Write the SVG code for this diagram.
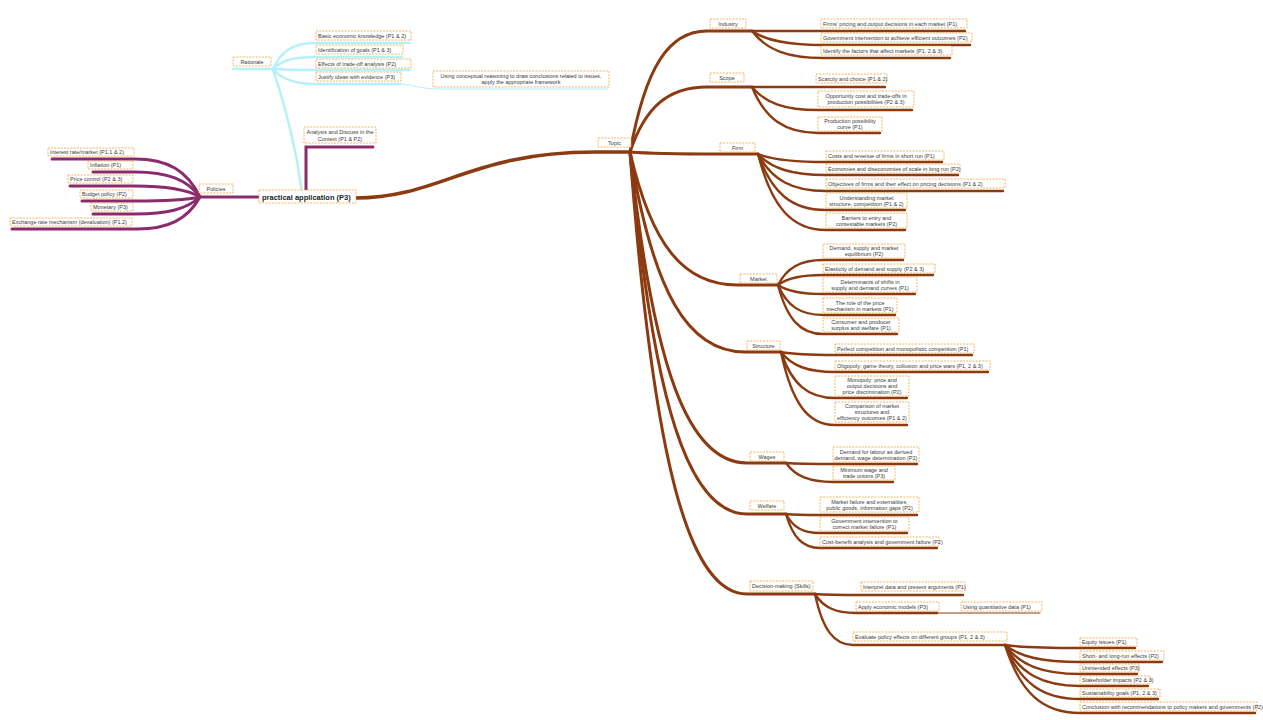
<svg xmlns="http://www.w3.org/2000/svg" width="1263" height="720" viewBox="0 0 1263 720">
<style>
  .bg{fill:#ffffff}
  .box{fill:#ffffff;stroke:#f0a23a;stroke-width:0.8;stroke-dasharray:2 1.2}
  .t{font-family:"Liberation Sans",Arial,sans-serif;font-size:5.5px;fill:#3a3a3a}
  .c{text-anchor:middle}
  .root{font-family:"Liberation Sans",Arial,sans-serif;font-size:7.5px;font-weight:bold;fill:#222}
  .br{fill:none;stroke:#8c3a10;stroke-linecap:round}
  .pu{fill:none;stroke:#8a2c6c;stroke-linecap:round}
  .cy{fill:none;stroke:#b5f1f7;stroke-linecap:round}
  .w4{stroke-width:3.5}
  .w3{stroke-width:3}
  .w2{stroke-width:2.4}
  .w1{stroke-width:1.2}
</style>
<rect class="bg" x="0" y="0" width="1263" height="720"/>

<!-- connectors -->
<g id="connectors">
  <!-- trunk to the topic hub -->
  <path class="br w4" d="M355,198 C440,198 470,152 595,152 L630,152"/>
  <!-- topic hub to branches -->
  <path class="br w3" d="M630,152 C645.4,67.3 668.5,31 707,31 L752,31"/>
  <path class="br w3" d="M630,152 C645.4,106.5 668.5,87 707,87 L752,87"/>
  <path class="br w3" d="M630,152 C647.4,153.4 673.5,154 717,154 L758,154"/>
  <path class="br w3" d="M630,152 C651.4,245.1 683.5,285 737,285 L778,285"/>
  <path class="br w3" d="M630,152 C653,292 687.5,352 745,352 L781,352"/>
  <path class="br w3" d="M630,152 C653.4,369.7 688.5,463 747,463 L786,463"/>
  <path class="br w3" d="M630,152 C653.4,405.4 688.5,514 747,514 L786,514"/>
  <path class="br w3" d="M630,152 C653.4,461.4 688.5,594 747,594 L815,594"/>
  <!-- Industry -->
  <path class="br w2" d="M752,31 L965,31"/>
  <path class="br w2" d="M752,31 C766.2,40.8 787.5,45 823,45 L970,45"/>
  <path class="br w2" d="M752,31 C766.2,49.9 787.5,58 823,58 L950,58"/>
  <!-- Scope -->
  <path class="br w2" d="M752,87 L885,87"/>
  <path class="br w2" d="M752,87 C765.2,103.1 785,110 818,110 L912,110"/>
  <path class="br w2" d="M752,87 C765.2,119.2 785,133 818,133 L880,133"/>
  <!-- Firm -->
  <path class="br w2" d="M758,154 C771.6,159.6 792,162 826,162 L942,162"/>
  <path class="br w2" d="M758,154 C771.6,168.7 792,175 826,175 L958,175"/>
  <path class="br w2" d="M758,154 C771.6,179.9 792,191 826,191 L1003,191"/>
  <path class="br w2" d="M758,154 C771.6,193.2 792,210 826,210 L905,210"/>
  <path class="br w2" d="M758,154 C771.6,207.2 792,230 826,230 L905,230"/>
  <!-- Market -->
  <path class="br w2" d="M778,285 C787,267.5 800.5,260 823,260 L903,260"/>
  <path class="br w2" d="M778,285 C787,278 800.5,275 823,275 L933,275"/>
  <path class="br w2" d="M778,285 C787,291.3 800.5,294 823,294 L915,294"/>
  <path class="br w2" d="M778,285 C787,306 800.5,315 823,315 L895,315"/>
  <path class="br w2" d="M778,285 C787,319.3 800.5,334 823,334 L897,334"/>
  <!-- Structure -->
  <path class="br w2" d="M781,352 C791.8,354.1 808,355 835,355 L972,355"/>
  <path class="br w2" d="M781,352 C791.8,366 808,372 835,372 L988,372"/>
  <path class="br w2" d="M781,352 C791.8,384.2 808,398 835,398 L907,398"/>
  <path class="br w2" d="M781,352 C791.8,403.1 808,425 835,425 L907,425"/>
  <!-- Wages -->
  <path class="br w2" d="M786,463 C795.4,463.7 809.5,464 833,464 L917,464"/>
  <path class="br w2" d="M786,463 C795.4,476.3 809.5,482 833,482 L893,482"/>
  <!-- Welfare -->
  <path class="br w2" d="M786,514 C792.8,514.7 803,515 820,515 L917,515"/>
  <path class="br w2" d="M786,514 C792.8,527.3 803,533 820,533 L907,533"/>
  <path class="br w2" d="M786,514 C792.8,537.8 803,548 820,548 L937,548"/>
  <!-- Decision-making -->
  <path class="br w2" d="M815,594 C824.2,594.7 838,595 861,595 L963,595"/>
  <path class="br w2" d="M815,594 C823.2,607.3 835.5,613 856,613 L937,613"/>
  <path class="br w1" d="M937,613 L1040,613"/>
  <path class="br w2" d="M815,594 C822.6,629.7 834,645 853,645 L1005,645"/>
  <!-- evaluation details -->
  <path class="br w2" d="M1005,645 C1020,647.1 1042.5,648 1080,648 L1135,648"/>
  <path class="br w2" d="M1005,645 C1020,656.9 1042.5,662 1080,662 L1162,662"/>
  <path class="br w2" d="M1005,645 C1020,665.3 1042.5,674 1080,674 L1137,674"/>
  <path class="br w2" d="M1005,645 C1020,673.7 1042.5,686 1080,686 L1148,686"/>
  <path class="br w2" d="M1005,645 C1020,682.8 1042.5,699 1080,699 L1158,699"/>
  <path class="br w2" d="M1005,645 C1020,692.6 1042.5,713 1080,713 L1255,713"/>

  <!-- Policies (left) -->
  <path class="pu w3" d="M200,197 L258,197"/>
  <path class="pu w3" d="M200,197 C187,170.4 167.5,159 135,159 L52,159"/>
  <path class="pu w3" d="M200,197 C187,179.5 167.5,172 135,172 L93,172"/>
  <path class="pu w3" d="M200,197 C187,189.3 167.5,186 135,186 L70,186"/>
  <path class="pu w3" d="M200,197 C187,199.8 167.5,201 135,201 L82,201"/>
  <path class="pu w3" d="M200,197 C187,208.9 167.5,214 135,214 L93,214"/>
  <path class="pu w3" d="M200,197 C187.4,219.4 168.5,229 137,229 L12,229"/>
  <path class="pu w3" d="M306,192 L306,147 L373,147"/>

  <!-- Rationale (top) -->
  <path class="cy w2" d="M302,192 C295,140 280,90 273,69 L233,69"/>
  <path class="cy w2" d="M273,69 C281.4,50.5 294,43 315,43 L410,43"/>
  <path class="cy w2" d="M273,69 C281.4,60.3 294,57 315,57 L402,57"/>
  <path class="cy w2" d="M273,69 C281.4,69.4 294,70 315,70 L410,70"/>
  <path class="cy w2" d="M273,69 C281.4,79.2 294,84 315,84 L400,84"/>
  <path class="cy w1" d="M400,84 C412,84 420,89 436,89 L608,89"/>
</g>

<!-- central node -->
<g id="root">
  <rect class="box" x="259" y="190" width="97" height="13"/>
  <text class="root" x="262" y="199.5">practical application (P3)</text>
</g>

<!-- left: policies -->
<g id="policies"><rect class="box" x="199" y="184" width="34" height="9"/><text class="t" x="216" y="190.5" text-anchor="middle">Policies</text></g>
<g id="policy-1"><rect class="box" x="48" y="148" width="86" height="8"/><text class="t" x="50" y="154">Interest rate/market (P1.1 &amp; 2)</text></g>
<g id="policy-2"><rect class="box" x="88" y="161" width="45" height="8"/><text class="t" x="90" y="167">Inflation (P1)</text></g>
<g id="policy-3"><rect class="box" x="68" y="175" width="65" height="8"/><text class="t" x="70" y="181">Price control (P2 &amp; 3)</text></g>
<g id="policy-4"><rect class="box" x="80" y="190" width="53" height="8"/><text class="t" x="82" y="196">Budget policy (P2)</text></g>
<g id="policy-5"><rect class="box" x="91" y="203" width="42" height="8"/><text class="t" x="93" y="209">Monetary (P3)</text></g>
<g id="policy-6"><rect class="box" x="10" y="218" width="122" height="8"/><text class="t" x="12" y="224">Exchange rate mechanism (devaluation) (P1.2)</text></g>

<g id="analysis"><rect class="box" x="304" y="127" width="72" height="16"/><text class="t c" x="340" y="134">Analysis and Discuss in the</text><text class="t c" x="340" y="140.5">Context (P1 &amp; P2)</text></g>

<!-- top: rationale -->
<g id="rationale"><rect class="box" x="233" y="57" width="38" height="9"/><text class="t" x="252" y="63.5" text-anchor="middle">Rationale</text></g>
<g id="rationale-1"><rect class="box" x="316" y="31" width="95" height="9"/><text class="t" x="318" y="37.5">Basic economic knowledge (P1 &amp; 2)</text></g>
<g id="rationale-2"><rect class="box" x="316" y="45" width="87" height="9"/><text class="t" x="318" y="51.5">Identification of goals (P1 &amp; 3)</text></g>
<g id="rationale-3"><rect class="box" x="316" y="59" width="95" height="9"/><text class="t" x="318" y="65.5">Effects of trade-off analysis (P2)</text></g>
<g id="rationale-4"><rect class="box" x="316" y="72" width="85" height="9"/><text class="t" x="318" y="78.5">Justify ideas with evidence (P3)</text></g>
<g id="rationale-5"><rect class="box" x="433" y="71" width="176" height="16"/><text class="t c" x="521" y="77.5">Using conceptual reasoning to draw conclusions related to issues,</text><text class="t c" x="521" y="84">apply the appropriate framework</text></g>

<!-- right: topic hub -->
<g id="topic"><rect class="box" x="598" y="138" width="33" height="9"/><text class="t" x="614.5" y="144.5" text-anchor="middle">Topic</text></g>

<g id="industry"><rect class="box" x="710" y="19" width="36" height="9"/><text class="t" x="728" y="25.5" text-anchor="middle">Industry</text></g>
<g id="industry-1"><rect class="box" x="821" y="19" width="146" height="9"/><text class="t" x="823" y="25.5">Firms' pricing and output decisions in each market (P1)</text></g>
<g id="industry-2"><rect class="box" x="821" y="33" width="151" height="9"/><text class="t" x="823" y="39.5">Government intervention to achieve efficient outcomes (P2)</text></g>
<g id="industry-3"><rect class="box" x="821" y="46" width="131" height="9"/><text class="t" x="823" y="52.5">Identify the factors that affect markets (P1, 2 &amp; 3)</text></g>

<g id="scope"><rect class="box" x="710" y="73" width="34" height="9"/><text class="t" x="727" y="79.5" text-anchor="middle">Scope</text></g>
<g id="scope-1"><rect class="box" x="816" y="74" width="71" height="9"/><text class="t" x="818" y="80.5">Scarcity and choice (P1 &amp; 2)</text></g>
<g id="scope-2"><rect class="box" x="818" y="91" width="96" height="16"/><text class="t c" x="866" y="97.5">Opportunity cost and trade-offs in</text><text class="t c" x="866" y="104">production possibilities (P2 &amp; 3)</text></g>
<g id="scope-3"><rect class="box" x="818" y="117" width="64" height="14"/><text class="t c" x="850" y="123">Production possibility</text><text class="t c" x="850" y="129">curve (P1)</text></g>

<g id="firm"><rect class="box" x="720" y="143" width="35" height="9"/><text class="t" x="737.5" y="149.5" text-anchor="middle">Firm</text></g>
<g id="firm-1"><rect class="box" x="826" y="151" width="118" height="9"/><text class="t" x="828" y="157.5">Costs and revenue of firms in short run (P1)</text></g>
<g id="firm-2"><rect class="box" x="826" y="164" width="134" height="9"/><text class="t" x="828" y="170.5">Economies and diseconomies of scale in long run (P2)</text></g>
<g id="firm-3"><rect class="box" x="826" y="179" width="179" height="9"/><text class="t" x="828" y="185.5">Objectives of firms and their effect on pricing decisions (P1 &amp; 2)</text></g>
<g id="firm-4"><rect class="box" x="826" y="193" width="81" height="15"/><text class="t c" x="866.5" y="199.5">Understanding market</text><text class="t c" x="866.5" y="205.5">structure, competition (P1 &amp; 2)</text></g>
<g id="firm-5"><rect class="box" x="826" y="213" width="81" height="15"/><text class="t c" x="866.5" y="219.5">Barriers to entry and</text><text class="t c" x="866.5" y="225.5">contestable markets (P2)</text></g>

<g id="market"><rect class="box" x="740" y="274" width="37" height="9"/><text class="t" x="758.5" y="280.5" text-anchor="middle">Market</text></g>
<g id="market-1"><rect class="box" x="823" y="244" width="82" height="14"/><text class="t c" x="864" y="250">Demand, supply and market</text><text class="t c" x="864" y="256">equilibrium (P2)</text></g>
<g id="market-2"><rect class="box" x="823" y="264" width="112" height="9"/><text class="t" x="825" y="270.5">Elasticity of demand and supply (P2 &amp; 3)</text></g>
<g id="market-3"><rect class="box" x="823" y="277" width="94" height="15"/><text class="t c" x="870" y="283.5">Determinants of shifts in</text><text class="t c" x="870" y="289.5">supply and demand curves (P1)</text></g>
<g id="market-4"><rect class="box" x="823" y="298" width="74" height="15"/><text class="t c" x="860" y="304.5">The role of the price</text><text class="t c" x="860" y="310.5">mechanism in markets (P1)</text></g>
<g id="market-5"><rect class="box" x="823" y="318" width="76" height="14"/><text class="t c" x="861" y="324">Consumer and producer</text><text class="t c" x="861" y="330">surplus and welfare (P1)</text></g>

<g id="structure"><rect class="box" x="747" y="341" width="33" height="9"/><text class="t" x="763.5" y="347.5" text-anchor="middle">Structure</text></g>
<g id="structure-1"><rect class="box" x="835" y="344" width="139" height="9"/><text class="t" x="837" y="350.5">Perfect competition and monopolistic competition (P1)</text></g>
<g id="structure-2"><rect class="box" x="835" y="361" width="155" height="9"/><text class="t" x="837" y="367.5">Oligopoly: game theory, collusion and price wars (P1, 2 &amp; 3)</text></g>
<g id="structure-3"><rect class="box" x="835" y="376" width="74" height="20"/><text class="t c" x="872" y="382">Monopoly: price and</text><text class="t c" x="872" y="388">output decisions and</text><text class="t c" x="872" y="394">price discrimination (P2)</text></g>
<g id="structure-4"><rect class="box" x="835" y="402" width="74" height="20"/><text class="t c" x="872" y="408">Comparison of market</text><text class="t c" x="872" y="414">structures and</text><text class="t c" x="872" y="420">efficiency outcomes (P1 &amp; 2)</text></g>

<g id="wages"><rect class="box" x="750" y="452" width="34" height="9"/><text class="t" x="767" y="458.5" text-anchor="middle">Wages</text></g>
<g id="wages-1"><rect class="box" x="833" y="447" width="86" height="15"/><text class="t c" x="876" y="453.5">Demand for labour as derived</text><text class="t c" x="876" y="459.5">demand, wage determination (P2)</text></g>
<g id="wages-2"><rect class="box" x="833" y="466" width="62" height="14"/><text class="t c" x="864" y="472">Minimum wage and</text><text class="t c" x="864" y="478">trade unions (P3)</text></g>

<g id="welfare"><rect class="box" x="750" y="501" width="34" height="9"/><text class="t" x="767" y="507.5" text-anchor="middle">Welfare</text></g>
<g id="welfare-1"><rect class="box" x="820" y="497" width="99" height="15"/><text class="t c" x="869.5" y="503.5">Market failure and externalities,</text><text class="t c" x="869.5" y="509.5">public goods, information gaps (P2)</text></g>
<g id="welfare-2"><rect class="box" x="820" y="517" width="89" height="14"/><text class="t c" x="864.5" y="523">Government intervention to</text><text class="t c" x="864.5" y="529">correct market failure (P1)</text></g>
<g id="welfare-3"><rect class="box" x="820" y="537" width="119" height="9"/><text class="t" x="822" y="543.5">Cost-benefit analysis and government failure (P2)</text></g>

<g id="decision"><rect class="box" x="750" y="581" width="63" height="10"/><text class="t" x="752" y="588">Decision-making (Skills)</text></g>
<g id="decision-1"><rect class="box" x="861" y="582" width="104" height="9"/><text class="t" x="863" y="588.5">Interpret data and present arguments (P1)</text></g>
<g id="decision-2"><rect class="box" x="856" y="602" width="83" height="9"/><text class="t" x="858" y="608.5">Apply economic models (P3)</text></g>
<g id="decision-2a"><rect class="box" x="961" y="602" width="81" height="9"/><text class="t" x="963" y="608.5">Using quantitative data (P1)</text></g>
<g id="decision-3"><rect class="box" x="853" y="632" width="154" height="9"/><text class="t" x="855" y="638.5">Evaluate policy effects on different groups (P1, 2 &amp; 3)</text></g>
<g id="evaluate-1"><rect class="box" x="1080" y="638" width="57" height="8"/><text class="t" x="1082" y="644">Equity issues (P1)</text></g>
<g id="evaluate-2"><rect class="box" x="1080" y="651" width="84" height="9"/><text class="t" x="1082" y="657.5">Short- and long-run effects (P2)</text></g>
<g id="evaluate-3"><rect class="box" x="1080" y="664" width="59" height="8"/><text class="t" x="1082" y="670">Unintended effects (P3)</text></g>
<g id="evaluate-4"><rect class="box" x="1080" y="676" width="70" height="8"/><text class="t" x="1082" y="682">Stakeholder impacts (P2 &amp; 3)</text></g>
<g id="evaluate-5"><rect class="box" x="1080" y="689" width="80" height="8"/><text class="t" x="1082" y="695">Sustainability goals (P1, 2 &amp; 3)</text></g>
<g id="evaluate-6"><rect class="box" x="1080" y="702" width="177" height="9"/><text class="t" x="1082" y="708.5">Conclusion with recommendations to policy makers and governments (P2)</text></g>
</svg>
